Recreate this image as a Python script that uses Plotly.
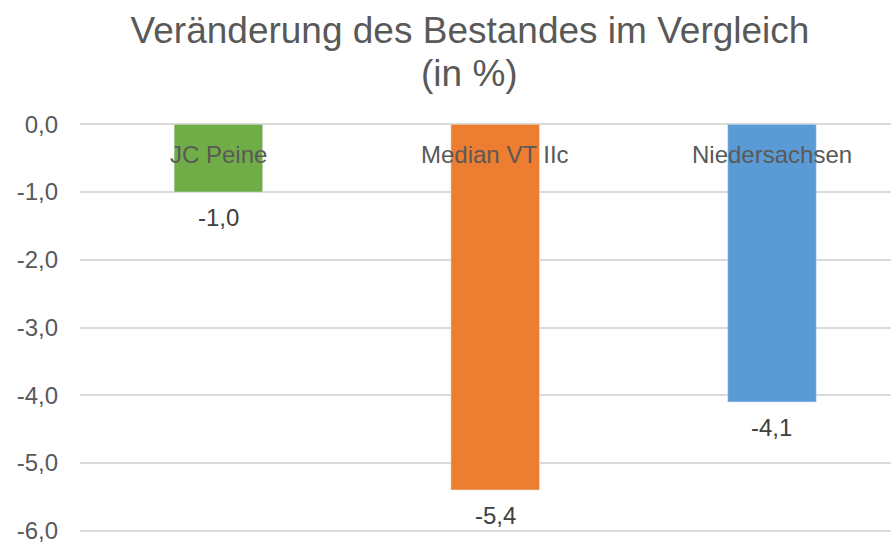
import plotly.graph_objects as go

categories = ["JC Peine", "Median VT IIc", "Niedersachsen"]
values = [-1.0, -5.4, -4.1]
value_labels = ["-1,0", "-5,4", "-4,1"]
colors = ["#70AD47", "#ED7D31", "#5B9BD5"]
tick_vals = [0, -1, -2, -3, -4, -5, -6]
tick_text = ["0,0", "-1,0", "-2,0", "-3,0", "-4,0", "-5,0", "-6,0"]
title_line1 = "Veränderung des Bestandes im Vergleich"
title_line2 = "(in %)"

font_fam = "Arial, Liberation Sans, sans-serif"
grey = "#595959"

fig = go.Figure()
fig.add_trace(go.Bar(
    x=categories, y=values, marker_color=colors, width=0.32,
    hoverinfo="skip",
))

# value labels below each bar
for c, v, t in zip(categories, values, value_labels):
    fig.add_annotation(x=c, y=v, text=t, showarrow=False, yanchor="top",
                       yshift=-10,
                       font=dict(size=24, color="#404040", family=font_fam))

# category labels near the zero line
for c in categories:
    fig.add_annotation(x=c, y=-0.44, text=c, showarrow=False,
                       font=dict(size=24, color=grey, family=font_fam))

# second title line
fig.add_annotation(x=0.48, xref="paper", y=1.122, yref="paper",
                   xanchor="center", yanchor="middle", text=title_line2,
                   showarrow=False,
                   font=dict(size=37, color=grey, family=font_fam))

fig.update_layout(
    width=891, height=544,
    paper_bgcolor="white", plot_bgcolor="white",
    margin=dict(l=80, r=0, t=123, b=12),
    title=dict(text=title_line1,
               x=470 / 891, xref="container", xanchor="center",
               y=1 - 30 / 544, yref="container", yanchor="middle",
               font=dict(size=37, color=grey, family=font_fam)),
    showlegend=False,
    xaxis=dict(showticklabels=False, showgrid=False, zeroline=False,
               range=[-0.5, 2.43], fixedrange=True),
    yaxis=dict(range=[-6.02, 0.02], tickvals=tick_vals, ticktext=tick_text,
               showgrid=True, gridcolor="#D9D9D9", gridwidth=1.5,
               zeroline=False, ticks="", ticklabelstandoff=21,
               ticklabeloverflow="allow", fixedrange=True,
               tickfont=dict(size=24, color=grey, family=font_fam)),
)

fig.write_html("out.html", config={"displayModeBar": False},
               post_script="document.body.style.margin='0';")
